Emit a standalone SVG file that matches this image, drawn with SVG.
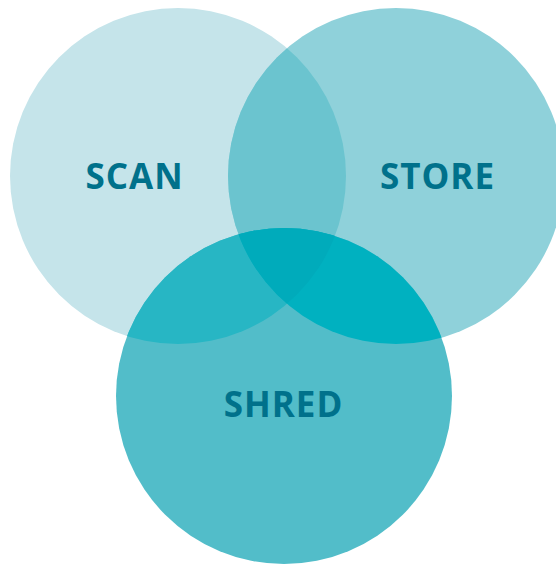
<svg xmlns="http://www.w3.org/2000/svg" width="556" height="564" viewBox="0 0 556 564">
<style>
.lbl{font-family:"Open Sans","Noto Sans","Liberation Sans",sans-serif;font-weight:700;font-size:35px;letter-spacing:1px;fill:#00718b;text-anchor:middle}
</style>
<defs>
<clipPath id="cScan"><circle cx="178" cy="176" r="168"/></clipPath>
<clipPath id="cStore"><circle cx="396" cy="176" r="168"/></clipPath>
<clipPath id="cShred"><circle cx="284" cy="396" r="168"/></clipPath>
</defs>
<rect width="556" height="564" fill="#ffffff"/>
<g id="scan">
<circle cx="178" cy="176" r="168" fill="#c5e4ea"/>
</g>
<g id="store">
<circle cx="396" cy="176" r="168" fill="#8fd1da"/>
</g>
<g id="shred">
<circle cx="284" cy="396" r="168" fill="#52bdc9"/>
</g>
<g id="overlaps">
<circle cx="396" cy="176" r="168" fill="#6bc4cf" clip-path="url(#cScan)"/>
<circle cx="284" cy="396" r="168" fill="#27b6c4" clip-path="url(#cScan)"/>
<circle cx="284" cy="396" r="168" fill="#00b1c0" clip-path="url(#cStore)"/>
<g clip-path="url(#cScan)"><circle cx="284" cy="396" r="168" fill="#00abbb" clip-path="url(#cStore)"/></g>
</g>
<g id="labels">
<text class="lbl" x="134.5" y="189">SCAN</text>
<text class="lbl" x="437.5" y="189">STORE</text>
<text class="lbl" x="283.5" y="417">SHRED</text>
</g>
</svg>
